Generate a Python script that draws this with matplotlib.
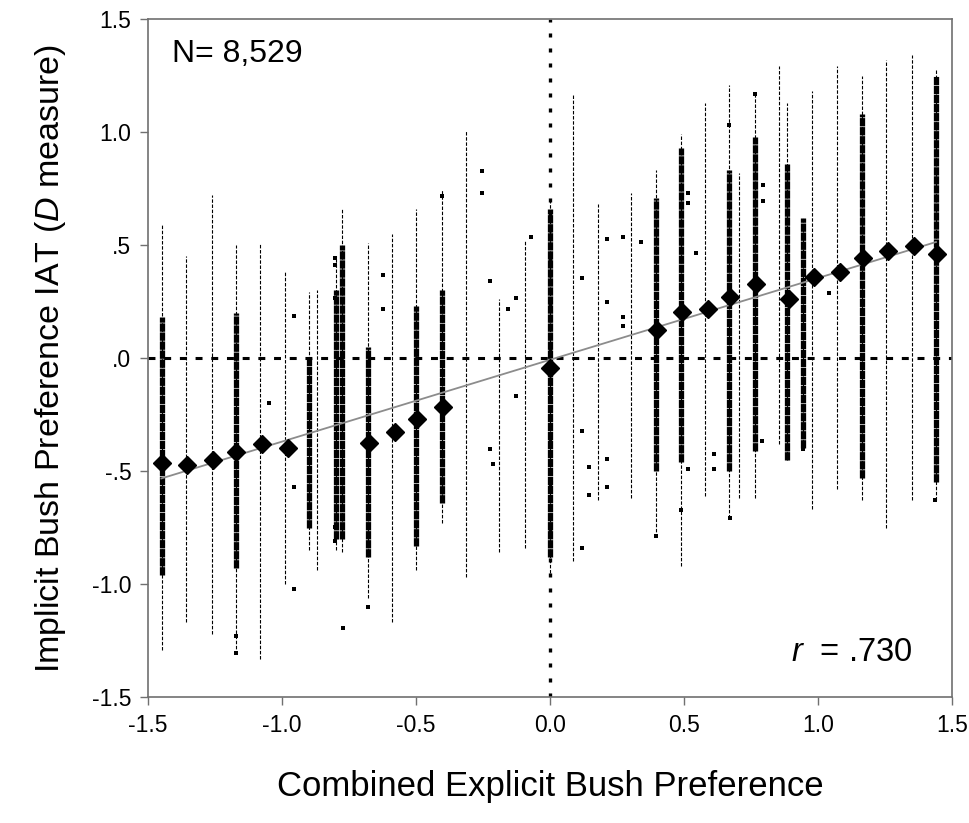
import numpy as np
import matplotlib
matplotlib.use("Agg")
import matplotlib.pyplot as plt

plt.rcParams['font.family'] = ['Liberation Sans', 'DejaVu Sans']
plt.rcParams['mathtext.fontset'] = 'custom'
plt.rcParams['mathtext.rm'] = 'Liberation Sans'
plt.rcParams['mathtext.it'] = 'Liberation Sans:italic'
plt.rcParams['lines.scale_dashes'] = False

# group means (diamonds)
mean_x = [-1.448, -1.355, -1.256, -1.170, -1.073, -0.978, -0.677, -0.580, -0.495, -0.400,
          0.0, 0.398, 0.494, 0.588, 0.672, 0.769, 0.893, 0.986, 1.082, 1.167, 1.262, 1.358, 1.443]
mean_y = [-0.463, -0.473, -0.451, -0.415, -0.382, -0.400, -0.375, -0.329, -0.271, -0.215,
          -0.046, 0.124, 0.202, 0.215, 0.271, 0.327, 0.260, 0.360, 0.382, 0.441, 0.475, 0.497, 0.460]

# raw score columns: x, full range, and dense range (nan = sparse column)
col_x = [-1.448, -1.358, -1.260, -1.172, -1.082, -0.990, -0.900, -0.870, -0.800, -0.776,
         -0.679, -0.589, -0.499, -0.403, -0.312, -0.190, -0.094, 0.0,
         0.086, 0.180, 0.303, 0.395, 0.488, 0.580, 0.669, 0.704, 0.765, 0.855,
         0.886, 0.945, 0.978, 1.072, 1.163, 1.254, 1.350, 1.440]
col_lo = [-1.29, -1.17, -1.22, -1.31, -1.33, -1.00, -0.85, -0.94, -0.85, -0.86,
          -1.06, -1.17, -0.94, -0.73, -0.97, -0.86, -0.84, -0.95,
          -0.90, -0.63, -0.62, -0.79, -0.92, -0.61, -0.71, -0.62, -0.62, -0.38,
          -0.45, -0.40, -0.67, -0.58, -0.63, -0.75, -0.63, -0.63]
col_hi = [0.59, 0.45, 0.72, 0.50, 0.51, 0.38, 0.29, 0.30, 0.45, 0.66,
          0.51, 0.55, 0.66, 0.75, 1.01, 0.26, 0.52, 0.70,
          1.17, 0.68, 0.73, 0.83, 0.99, 1.13, 1.21, 0.82, 1.17, 1.29,
          1.13, 0.62, 1.18, 1.29, 1.25, 1.32, 1.34, 1.28]
nan = np.nan
dense_lo = [-0.96, nan, nan, -0.93, nan, nan, -0.75, nan, -0.80, -0.80,
            -0.88, nan, -0.83, -0.64, nan, nan, nan, -0.88,
            nan, nan, nan, -0.50, -0.46, nan, -0.50, nan, -0.41, nan,
            -0.45, -0.40, nan, nan, -0.53, nan, nan, -0.55]
dense_hi = [0.18, nan, nan, 0.20, nan, nan, 0.00, nan, 0.30, 0.50,
            0.05, nan, 0.23, 0.30, nan, nan, nan, 0.66,
            nan, nan, nan, 0.71, 0.93, nan, 0.83, nan, 0.98, nan,
            0.86, 0.62, nan, nan, 1.08, nan, nan, 1.25]

# isolated scores
stray_x = [-0.954, -0.803, -0.803, -0.803, -0.623, -0.623, -0.253, -0.253, -0.224, -0.155,
           -0.127, -0.071, -0.404, -0.954, -0.774, -1.172, -1.172, -0.678, -0.954, -1.049,
           -0.224, -0.214, -0.127, -0.803, -0.803, 0.118, 0.118, 0.147, 0.147, 0.214,
           0.214, 0.394, 0.489, 0.516, 0.613, 0.613, 0.670, 0.792, 0.945, 1.438,
           0.214, 0.214, 0.271, 0.338, 0.118, 0.545, 0.669, 0.765, 1.041, 0.516,
           0.516, 0.794, 0.794, 0.271, 0.271]
stray_y = [0.187, 0.444, 0.410, 0.264, 0.366, 0.218, 0.827, 0.729, 0.342, 0.218,
           0.265, 0.534, 0.717, -1.024, -1.193, -1.307, -1.228, -1.103, -0.572, -0.200,
           -0.403, -0.470, -0.167, -0.746, -0.810, -0.323, -0.842, -0.481, -0.606, -0.448,
           -0.571, -0.786, -0.673, -0.493, -0.425, -0.493, -0.707, -0.367, -0.403, -0.628,
           0.525, 0.249, 0.534, 0.512, 0.355, 0.466, 1.031, 1.167, 0.286, 0.732,
           0.684, 0.765, 0.693, 0.183, 0.142]

# fitted line
fit_slope = 0.362
fit_icept = -0.008
fit_range = [-1.45, 1.44]

x_ticks = [-1.5, -1.0, -0.5, 0.0, 0.5, 1.0, 1.5]
x_labels = ['-1.5', '-1.0', '-0.5', '0.0', '0.5', '1.0', '1.5']
y_ticks = [1.5, 1.0, 0.5, 0.0, -0.5, -1.0, -1.5]
y_labels = ['1.5', '1.0', '.5', '.0', '-.5', '-1.0', '-1.5']

fig = plt.figure(figsize=(9.69, 8.23), dpi=100)
ax = fig.add_axes([0.1527, 0.1531, 0.8298, 0.8238])

# reference lines
ax.axhline(0, color='black', lw=2.2, ls=(0, (5.0, 6.3)), zorder=1)
ax.axvline(0, color='black', lw=2.4, ls=(0, (2.9, 7.9)), zorder=1)

# sparse spread of each column
ax.vlines(col_x, col_lo, col_hi, color='black', lw=0.8, linestyles=[(0, (2.5, 1.2))], zorder=2)
# dense part of each column
dl = np.array(dense_lo)
dh = np.array(dense_hi)
ok = ~np.isnan(dl)
ax.vlines(np.array(col_x)[ok], dl[ok], dh[ok], color='black', lw=3.8,
          linestyles=[(0, (6.0, 0.5))], zorder=2)
ax.scatter(stray_x, stray_y, marker='s', s=12, color='black', linewidths=0, zorder=2)

# regression line
fx = np.array(fit_range)
ax.plot(fx, fit_icept + fit_slope * fx, color='#8c8c8c', lw=1.3, zorder=3)

# means
ax.plot(mean_x, mean_y, ls='none', marker='D', ms=9.5, color='black', zorder=4)

ax.set_xlim(-1.5, 1.5)
ax.set_ylim(-1.5, 1.5)
ax.set_xticks(x_ticks)
ax.set_xticklabels(x_labels, fontsize=16.5)
ax.set_yticks(y_ticks)
ax.set_yticklabels(y_labels, fontsize=16.5)
ax.tick_params(direction='out', length=6, width=1, color='#707070', pad=6)
for s in ax.spines.values():
    s.set_color('#707070')
    s.set_linewidth(1.2)

ax.set_xlabel('Combined Explicit Bush Preference', fontsize=25, labelpad=24)
ax.set_ylabel('Implicit Bush Preference IAT ($\\it{D}$ measure)', fontsize=24.5, labelpad=17)

ax.text(0.03, 0.948, 'N= 8,529', transform=ax.transAxes, fontsize=23, va='center')
ax.text(0.80, 0.065, '$\\it{r}$  = .730', transform=ax.transAxes, fontsize=23.5, va='center')

fig.savefig('out.png', dpi=100)
